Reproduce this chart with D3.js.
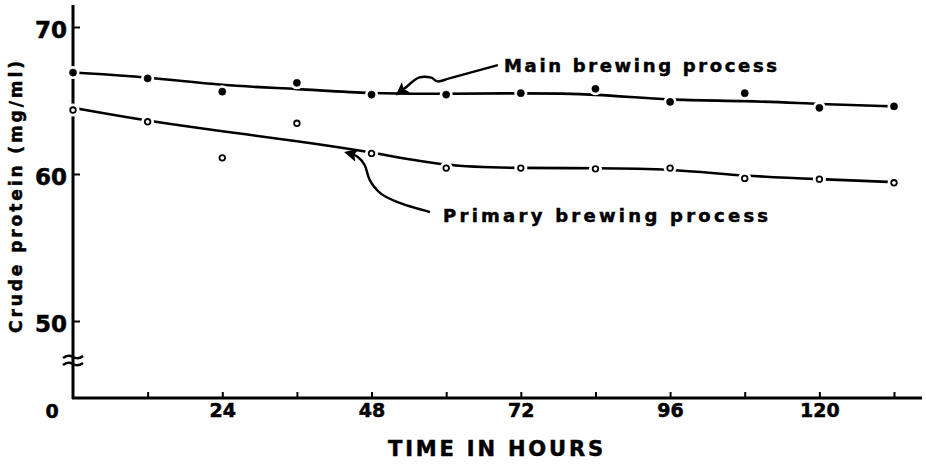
<!DOCTYPE html>
<html>
<head>
<meta charset="utf-8">
<script src="https://cdn.jsdelivr.net/npm/d3@7"></script>
<style>
  body { margin: 0; background: #fff; }
  svg { display: block; }
  text { font-family: "DejaVu Sans", sans-serif; font-weight: bold; fill: #000; stroke: #000; stroke-width: 0.5px; }
</style>
</head>
<body>
<svg id="chart" width="926" height="464"></svg>
<script>
// ── Data ──
const hours = [0, 12, 24, 36, 48, 60, 72, 84, 96, 108, 120, 132];

// Main brewing process: measured points and the hand-drawn curve through them
const mainPoints = [66.9, 66.5, 65.6, 66.2, 65.4, 65.4, 65.5, 65.8, 64.9, 65.5, 64.5, 64.6];
const mainCurve  = [66.9, 66.6, 66.0, 65.8, 65.45, 65.45, 65.5, 65.45, 65.0, 65.0, 64.75, 64.6];

// Primary brewing process
const primPoints = [64.35, 63.55, 61.1, 63.45, 61.4, 60.4, 60.4, 60.35, 60.4, 59.7, 59.65, 59.4];
const primCurve  = [64.5, 63.6, 62.9, 62.25, 61.5, 60.5, 60.4, 60.4, 60.35, 59.85, 59.65, 59.45];

const yTicks = [50, 60, 70];
const xTicks = [12, 24, 36, 48, 60, 72, 84, 96, 108, 120, 132];
const xLabelled = [24, 48, 72, 96, 120];

// annotation leader lines, in data units [hour, mg/ml]
const mainArrow = [[68.3, 67.41], [60.5, 66.5], [58.6, 66.3], [57.6, 66.55], [55.6, 66.55], [53.4, 65.85], [52.2, 65.45]];
const primArrow = [[57.4, 57.41], [52.1, 58.1], [49.4, 58.7], [47.7, 59.6], [46.9, 60.6], [45.8, 61.16], [44.0, 61.45]];
const mainLabel = { text: "Main brewing process", at: [69.3, 66.94], width: 273 };
const primLabel = { text: "Primary brewing process", at: [59.5, 56.73], width: 325 };

// ── Scales ──
const svg = d3.select("#chart");
const x = d3.scaleLinear().domain([0, 132]).range([73, 894]);
const y = d3.scaleLinear().domain([50, 70]).range([321, 27]);
const axisY = 398;

// ── Axes ──
svg.append("line")
    .attr("x1", x(0)).attr("x2", x(0))
    .attr("y1", 5).attr("y2", axisY + 1)
    .attr("stroke", "#000").attr("stroke-width", 3);
svg.append("line")
    .attr("x1", x(0) - 1).attr("x2", 922)
    .attr("y1", axisY).attr("y2", axisY)
    .attr("stroke", "#000").attr("stroke-width", 3);

const gy = svg.append("g")
    .attr("transform", `translate(${x(0)},0)`)
    .call(d3.axisLeft(y).tickValues(yTicks).tickSize(-7).tickPadding(6).tickFormat(d3.format("d")));
gy.select(".domain").remove();
gy.selectAll("line").attr("stroke-width", 2);
gy.selectAll("text")
    .attr("dy", "0.45em")
    .style("font-size", "23px")
    .style("font-family", "DejaVu Sans, sans-serif");

const gx = svg.append("g")
    .attr("transform", `translate(0,${axisY})`)
    .call(d3.axisBottom(x).tickValues(xTicks).tickSize(-6).tickPadding(6)
        .tickFormat(d => xLabelled.includes(d) ? d : ""));
gx.select(".domain").remove();
gx.selectAll("line").attr("stroke-width", 2);
gx.selectAll("text")
    .style("font-size", "19px")
    .style("font-family", "DejaVu Sans, sans-serif");

// origin label
svg.append("text")
    .attr("x", x(0) - 21).attr("y", axisY + 20)
    .attr("text-anchor", "middle")
    .style("font-size", "19px")
    .text("0");

// axis break
[0, 7].forEach(off => {
    svg.append("path")
        .attr("d", `M${x(0) - 10},${358 + off} q5,-4 10,-1 q5,3 10,-1`)
        .attr("fill", "none").attr("stroke", "#000").attr("stroke-width", 2.5);
});

// axis titles
svg.append("text")
    .attr("transform", "translate(22,197) rotate(-90)")
    .attr("text-anchor", "middle")
    .attr("textLength", 272).attr("lengthAdjust", "spacing")
    .style("font-size", "17px")
    .text("Crude protein  (mg/ml)");

svg.append("text")
    .attr("x", 388).attr("y", 456)
    .attr("textLength", 215).attr("lengthAdjust", "spacing")
    .style("font-size", "21px")
    .text("TIME  IN  HOURS");

// ── Series ──
const curve = d3.line()
    .x((d, i) => x(hours[i]))
    .y(d => y(d))
    .curve(d3.curveBasis);

function drawSeries(curveVals, pts, open) {
    svg.append("path")
        .datum(curveVals)
        .attr("d", curve)
        .attr("fill", "none")
        .attr("stroke", "#000")
        .attr("stroke-width", 2.6);
    // small breaks in the line around each point
    svg.selectAll(null)
        .data(pts)
        .join("circle")
        .attr("cx", (d, i) => x(hours[i]))
        .attr("cy", d => y(d))
        .attr("r", 6.5)
        .attr("fill", "#fff");
    svg.selectAll(null)
        .data(pts)
        .join("circle")
        .attr("cx", (d, i) => x(hours[i]))
        .attr("cy", d => y(d))
        .attr("r", open ? 2.8 : 3.6)
        .attr("fill", open ? "#fff" : "#000")
        .attr("stroke", "#000")
        .attr("stroke-width", open ? 1.8 : 0.5);
}

drawSeries(mainCurve, mainPoints, false);
drawSeries(primCurve, primPoints, true);

// ── Annotations ──
svg.append("defs").append("marker")
    .attr("id", "head")
    .attr("viewBox", "0 0 10 10")
    .attr("refX", 8).attr("refY", 5)
    .attr("markerWidth", 5.5).attr("markerHeight", 5.5)
    .attr("orient", "auto")
    .append("path")
    .attr("d", "M0,0 L10,5 L0,10 L2,5 Z")
    .attr("fill", "#000");

const leader = d3.line()
    .x(d => x(d[0]))
    .y(d => y(d[1]))
    .curve(d3.curveCatmullRom);

[mainArrow, primArrow].forEach(a => {
    svg.append("path")
        .datum(a)
        .attr("d", leader)
        .attr("fill", "none")
        .attr("stroke", "#000")
        .attr("stroke-width", 2.4)
        .attr("marker-end", "url(#head)");
});

[mainLabel, primLabel].forEach(l => {
    svg.append("text")
        .attr("x", x(l.at[0])).attr("y", y(l.at[1]))
        .attr("textLength", l.width).attr("lengthAdjust", "spacing")
        .style("font-size", "18px")
        .text(l.text.replace(/ /g, "  "));
});
</script>
</body>
</html>
